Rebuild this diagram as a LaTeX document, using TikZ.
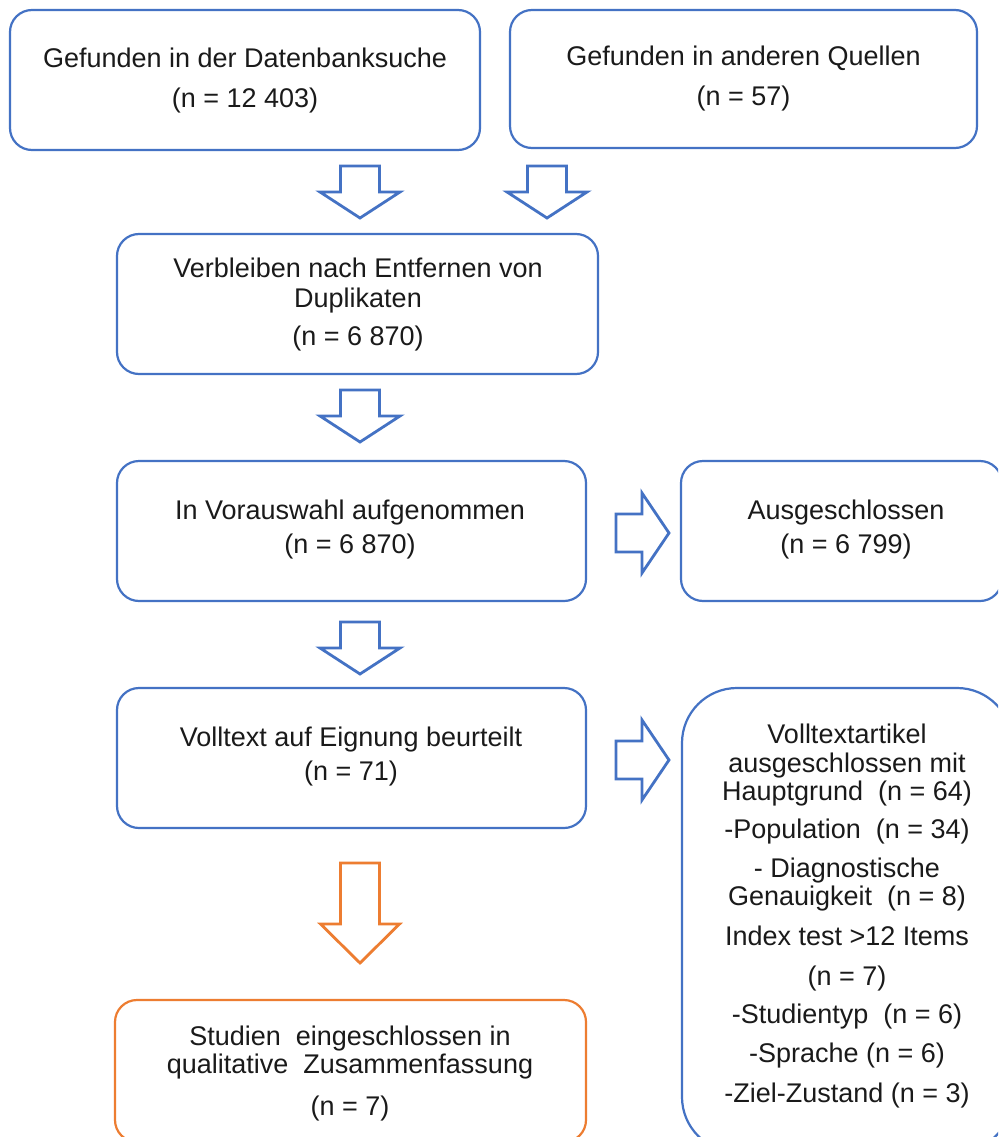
\documentclass[tikz,border=0pt]{standalone}
\usepackage{fontspec}
\setmainfont{Liberation Sans}
\definecolor{blu}{HTML}{4472C4}
\definecolor{ora}{HTML}{ED7D31}
\definecolor{ink}{HTML}{1A1A1A}
\begin{document}
\begin{tikzpicture}[x=1pt,y=-1pt,
  boxnode/.style={draw=blu, line width=2.2pt, rounded corners=22pt, inner sep=0pt, outer sep=0pt},
  orabox/.style={boxnode, draw=ora},
  txt/.style={font=\fontsize{27}{30}\selectfont, anchor=base, inner sep=0pt, text=ink},
  arrline/.style={draw=blu, line width=2.8pt, line join=miter, fill=white},
  darr/.pic={\path[arrline] (-19.5,0) -- (19.5,0) -- (19.5,26) -- (40,26) -- (0,52) -- (-40,26) -- (-19.5,26) -- cycle;},
  oarr/.pic={\path[arrline, draw=ora] (-19.5,0) -- (19.5,0) -- (19.5,61) -- (39.5,61) -- (0,100) -- (-39.5,61) -- (-19.5,61) -- cycle;},
  rarr/.pic={\path[arrline] (0,-19) -- (26,-19) -- (26,-40) -- (53,0) -- (26,40) -- (26,19) -- (0,19) -- cycle;}
]
\useasboundingbox (0,0) rectangle (998,1137);
\clip (0,0) rectangle (998,1137);
\fill[white] (0,0) rectangle (998,1137);

% boxes
\node[boxnode, minimum width=470pt, minimum height=140pt] (b1) at (245,80) {};
\node[boxnode, minimum width=467pt, minimum height=138pt] (b2) at (743.5,79) {};
\node[boxnode, minimum width=481pt, minimum height=140pt] (b3) at (357.5,304) {};
\node[boxnode, minimum width=469pt, minimum height=140pt] (b4) at (351.5,531) {};
\node[boxnode, minimum width=321pt, minimum height=140pt] (b5) at (841.5,531) {};
\node[boxnode, minimum width=469pt, minimum height=140pt] (b6) at (351.5,758) {};
\node[boxnode, rounded corners=55pt, minimum width=330pt, minimum height=464pt] (b7) at (847,920) {};
\node[orabox, minimum width=471pt, minimum height=142pt] (b8) at (350.5,1071) {};

% texts
\node[txt] (t1a) at (245,68) {Gefunden in der Datenbanksuche};
\node[txt] (t1b) at (245,108) {(n = 12 403)};
\node[txt] (t2a) at (743.5,66) {Gefunden in anderen Quellen};
\node[txt] (t2b) at (743.5,106) {(n = 57)};
\node[txt] (t3a) at (358,277) {Verbleiben nach Entfernen von};
\node[txt] (t3b) at (358,307) {Duplikaten};
\node[txt] (t3c) at (358,345) {(n = 6 870)};
\node[txt] (t4a) at (350,519) {In Vorauswahl aufgenommen};
\node[txt] (t4b) at (350,553) {(n = 6 870)};
\node[txt] (t5a) at (846,519) {Ausgeschlossen};
\node[txt] (t5b) at (846,553) {(n = 6 799)};
\node[txt] (t6a) at (351,746) {Volltext auf Eignung beurteilt};
\node[txt] (t6b) at (351,780) {(n = 71)};
\node[txt] (t7a) at (847,743) {Volltextartikel};
\node[txt] (t7b) at (847,772) {ausgeschlossen mit};
\node[txt] (t7c) at (847,800) {Hauptgrund\ \ (n = 64)};
\node[txt] (t7d) at (847,838) {-Population\ \ (n = 34)};
\node[txt] (t7e) at (847,877) {- Diagnostische};
\node[txt] (t7f) at (847,905) {Genauigkeit\ \ (n = 8)};
\node[txt] (t7g) at (847,945) {Index test >12 Items};
\node[txt] (t7h) at (847,985) {(n = 7)};
\node[txt] (t7i) at (847,1023) {-Studientyp\ \ (n = 6)};
\node[txt] (t7j) at (847,1062) {-Sprache (n = 6)};
\node[txt] (t7k) at (847,1102) {-Ziel-Zustand (n = 3)};
\node[txt] (t8a) at (350,1045) {Studien\ \ eingeschlossen in};
\node[txt] (t8b) at (350,1073) {qualitative\ \ Zusammenfassung};
\node[txt] (t8c) at (350,1115) {(n = 7)};

% block arrows
\pic at (360,166) {darr};
\pic at (547,166) {darr};
\pic at (360,390) {darr};
\pic at (360,622) {darr};
\pic at (360,863) {oarr};
\pic at (616,533) {rarr};
\pic at (616,760) {rarr};
\end{tikzpicture}
\end{document}
